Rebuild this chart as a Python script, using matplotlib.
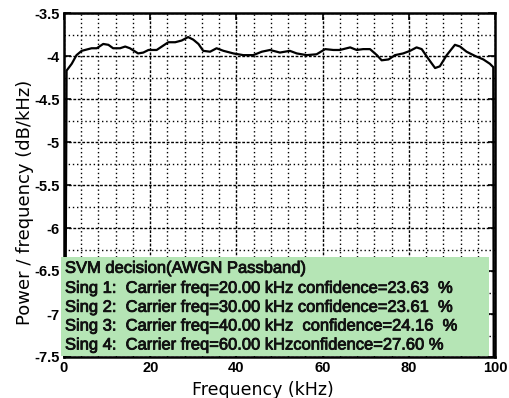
import numpy as np
import matplotlib
matplotlib.use('Agg')
import matplotlib.pyplot as plt
import matplotlib.patheffects as pe
from matplotlib.patches import Rectangle
from matplotlib.ticker import MultipleLocator

freq = [0.3, 0.6, 1.8, 2.9, 4.1, 6.4, 7.6, 9.1, 10.3, 11.4, 13.0, 14.2, 15.3,
        17.2, 18.4, 19.6, 21.5, 22.7, 24.2, 25.8, 27.3, 28.8, 30.0, 31.2, 32.3,
        33.9, 35.4, 37.0, 39.3, 41.6, 43.9, 45.9, 47.8, 50.1, 52.4, 54.0, 56.3,
        58.6, 60.6, 62.5, 64.0, 66.4, 67.9, 69.4, 71.0, 72.6, 73.7, 75.3, 76.8,
        78.7, 80.3, 81.8, 83.0, 84.5, 86.1, 87.2, 88.8, 90.7, 91.9, 93.4, 95.4,
        97.3, 98.8, 99.6, 99.7]
power = [-7.6, -4.17, -4.09, -3.99, -3.94, -3.91, -3.91, -3.86, -3.87, -3.91,
         -3.91, -3.89, -3.91, -3.97, -3.96, -3.93, -3.93, -3.89, -3.84, -3.84,
         -3.82, -3.78, -3.81, -3.86, -3.94, -3.95, -3.91, -3.94, -3.97, -3.99,
         -3.99, -3.95, -3.93, -3.96, -3.94, -3.97, -3.99, -3.98, -3.92, -3.93,
         -3.93, -3.90, -3.93, -3.92, -3.92, -3.99, -4.05, -4.04, -3.99, -3.97,
         -3.94, -3.90, -3.92, -4.03, -4.14, -4.12, -3.99, -3.87, -3.89, -3.95,
         -4.00, -4.04, -4.09, -4.13, -7.6]

xticks = [0, 20, 40, 60, 80, 100]
yticks = [-7.5, -7, -6.5, -6, -5.5, -5, -4.5, -4, -3.5]
ytick_labels = ['-7.5', '-7', '-6.5', '-6', '-5.5', '-5', '-4.5', '-4', '-3.5']

box_lines = ['SVM decision(AWGN Passband)',
             'Sing 1:  Carrier freq=20.00 kHz confidence=23.63  %',
             'Sing 2:  Carrier freq=30.00 kHz confidence=23.61  %',
             'Sing 3:  Carrier freq=40.00 kHz  confidence=24.16  %',
             'Sing 4:  Carrier freq=60.00 kHzconfidence=27.60 %']

W, H = 510, 398
fig = plt.figure(figsize=(W / 100, H / 100), dpi=100)
ax = fig.add_axes([64 / W, 1 - 357 / H, 431 / W, 344 / H])

ax.plot(freq, power, color='black', lw=1.6, zorder=3)
ax.set_xlim(0, 100)
ax.set_ylim(-7.5, -3.5)

ax.set_xticks(xticks)
ax.set_yticks(yticks)
ax.set_yticklabels(ytick_labels)
ax.xaxis.set_minor_locator(MultipleLocator(4))
ax.yaxis.set_minor_locator(MultipleLocator(0.25))
ax.grid(which='major', color='black', ls=(0, (2, 1.2)), lw=1.0)
ax.grid(which='minor', color='black', ls=(0, (1, 2)), lw=1.0)
ax.tick_params(which='both', direction='in', top=True, right=True, width=1.2)
ax.tick_params(which='major', length=5, pad=3)
ax.tick_params(which='minor', length=0)
for lab in ax.get_xticklabels() + ax.get_yticklabels():
    lab.set_fontfamily('Liberation Sans')
    lab.set_fontweight('heavy')
    lab.set_fontsize(10.5)
for sp in ax.spines.values():
    sp.set_linewidth(1.8)

ax.set_xlabel('Frequency (kHz)', fontsize=12.5, va='center')
ax.xaxis.set_label_coords((263 - 64) / 431, (357 - 390) / 344)
ax.set_ylabel('Power / frequency (dB/kHz)', fontsize=13, va='center')
ax.yaxis.set_label_coords((25 - 64) / 431, (357 - 202) / 344)

fig.patches.append(Rectangle((60.7 / W, 1 - 356 / H), (489 - 60.7) / W, 99 / H,
                             transform=fig.transFigure, facecolor='#b5e5b5',
                             edgecolor='none', zorder=5))
line_y = [268.3, 288.3, 307.3, 326.0, 345.0]
for txt, yy in zip(box_lines, line_y):
    fig.text(65 / W, 1 - yy / H, txt, fontsize=11.9, family='Liberation Sans',
             va='center', ha='left', color='#111111', zorder=6,
             path_effects=[pe.withStroke(linewidth=0.6, foreground='#111111')])

fig.savefig('out.png', dpi=100)
